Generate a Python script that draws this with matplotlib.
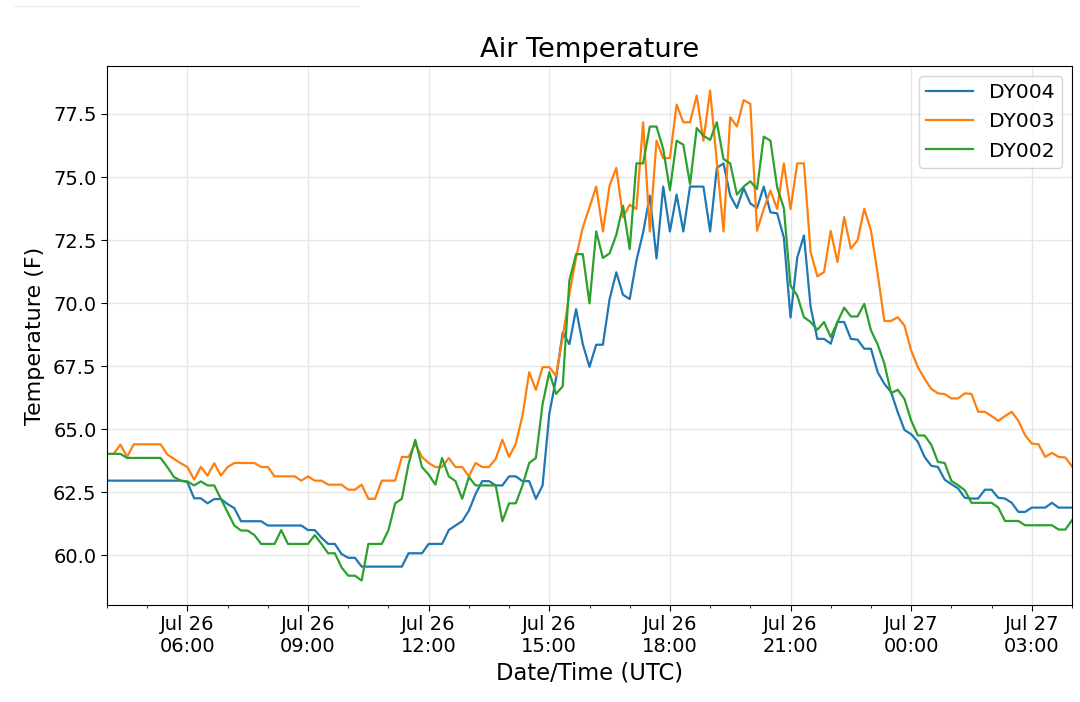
import matplotlib
matplotlib.use("Agg")
import matplotlib.pyplot as plt
import matplotlib.dates as mdates
from matplotlib.lines import Line2D
import pandas as pd

start_time = "2019-07-26 04:00"
n_points = 145
freq = "10min"

dy004 = [
    62.96, 62.96, 62.96, 62.96, 62.96, 62.96, 62.96, 62.96, 62.96, 62.96,
    62.96, 62.96, 62.9, 62.26, 62.26, 62.06, 62.23, 62.23, 62.03, 61.87,
    61.35, 61.35, 61.35, 61.35, 61.18, 61.18, 61.18, 61.18, 61.18, 61.18,
    61.0, 61.0, 60.7, 60.45, 60.45, 60.05, 59.9, 59.9, 59.55, 59.55,
    59.55, 59.55, 59.55, 59.55, 59.55, 60.08, 60.08, 60.08, 60.45, 60.45,
    60.45, 61.0, 61.18, 61.35, 61.77, 62.43, 62.94, 62.94, 62.77, 62.77,
    63.13, 63.13, 62.94, 62.94, 62.24, 62.77, 65.6, 67.0, 68.84, 68.37,
    69.76, 68.37, 67.47, 68.35, 68.35, 70.16, 71.22, 70.33, 70.16, 71.68,
    72.8, 74.26, 71.77, 74.62, 72.84, 74.3, 72.84, 74.62, 74.62, 74.62,
    72.84, 75.36, 75.54, 74.26, 73.77, 74.56, 73.95, 73.77, 74.62, 73.6,
    73.56, 72.6, 69.43, 71.8, 72.68, 69.84, 68.58, 68.58, 68.39, 69.25,
    69.25, 68.58, 68.55, 68.19, 68.19, 67.26, 66.8, 66.47, 65.67, 64.97,
    64.8, 64.5, 63.9, 63.55, 63.5, 63.0, 62.82, 62.65, 62.28, 62.25,
    62.25, 62.6, 62.6, 62.28, 62.25, 62.08, 61.72, 61.72, 61.89, 61.89,
    61.89, 62.08, 61.89, 61.89, 61.89,
]

dy003 = [
    64.02, 64.02, 64.39, 63.9, 64.4, 64.4, 64.4, 64.4, 64.4, 64.0,
    63.82, 63.65, 63.5, 63.0, 63.5, 63.16, 63.65, 63.16, 63.5, 63.66,
    63.66, 63.66, 63.66, 63.5, 63.5, 63.13, 63.13, 63.13, 63.13, 62.96,
    63.13, 62.96, 62.96, 62.8, 62.8, 62.8, 62.6, 62.6, 62.8, 62.24,
    62.24, 62.96, 62.96, 62.96, 63.9, 63.9, 64.42, 63.9, 63.66, 63.5,
    63.5, 63.86, 63.5, 63.5, 63.13, 63.66, 63.5, 63.5, 63.82, 64.58,
    63.9, 64.42, 65.54, 67.26, 66.56, 67.46, 67.46, 67.12, 68.64, 70.36,
    71.81, 73.0, 73.8, 74.62, 72.84, 74.66, 75.36, 73.4, 73.9, 73.73,
    77.17, 72.84, 76.44, 75.75, 75.75, 77.87, 77.17, 77.17, 78.23, 76.44,
    78.43, 75.6, 72.84, 77.37, 77.0, 78.05, 77.9, 72.87, 73.73, 74.46,
    73.73, 75.54, 73.73, 75.54, 75.54, 72.02, 71.06, 71.23, 72.86, 71.63,
    73.41, 72.16, 72.49, 73.74, 72.88, 71.16, 69.29, 69.29, 69.44, 69.11,
    68.12, 67.46, 67.0, 66.6, 66.42, 66.39, 66.22, 66.22, 66.42, 66.4,
    65.69, 65.69, 65.52, 65.33, 65.52, 65.69, 65.33, 64.76, 64.43, 64.4,
    63.9, 64.06, 63.9, 63.88, 63.53,
]

dy002 = [
    64.02, 64.02, 64.02, 63.86, 63.86, 63.86, 63.86, 63.86, 63.86, 63.5,
    63.1, 62.96, 62.93, 62.77, 62.93, 62.77, 62.77, 62.24, 61.7, 61.18,
    60.98, 60.98, 60.8, 60.45, 60.45, 60.45, 61.0, 60.45, 60.45, 60.45,
    60.45, 60.8, 60.45, 60.08, 60.08, 59.52, 59.19, 59.19, 59.0, 60.45,
    60.45, 60.45, 61.0, 62.06, 62.24, 63.62, 64.58, 63.5, 63.2, 62.8,
    63.86, 63.13, 62.94, 62.24, 63.1, 62.77, 62.77, 62.77, 62.77, 61.35,
    62.06, 62.06, 62.77, 63.66, 63.86, 66.0, 67.26, 66.4, 66.7, 70.9,
    71.94, 71.94, 69.99, 72.84, 71.79, 71.97, 72.71, 73.86, 72.14, 75.54,
    75.54, 77.0, 77.0, 76.11, 74.48, 76.44, 76.28, 74.72, 76.94, 76.64,
    76.47, 77.17, 75.71, 75.54, 74.3, 74.62, 74.83, 74.52, 76.6, 76.44,
    74.59, 73.77, 70.69, 70.3, 69.44, 69.25, 68.94, 69.25, 68.65, 69.25,
    69.82, 69.47, 69.47, 69.97, 68.92, 68.36, 67.6, 66.43, 66.56, 66.2,
    65.34, 64.75, 64.75, 64.38, 63.7, 63.66, 62.95, 62.78, 62.58, 62.08,
    62.08, 62.08, 62.08, 61.89, 61.36, 61.36, 61.36, 61.19, 61.19, 61.19,
    61.19, 61.19, 61.02, 61.02, 61.39,
]

series_names = ["DY004", "DY003", "DY002"]
series_values = [dy004, dy003, dy002]
series_colors = ["#1f77b4", "#ff7f0e", "#2ca02c"]

times = pd.date_range(start=start_time, periods=n_points, freq=freq)

plt.rcParams["font.family"] = ["DejaVu Sans"]

fig = plt.figure(figsize=(10.8, 7.02), dpi=100)
ax = fig.add_axes([107 / 1080, 1 - 605 / 702, (1072 - 107) / 1080, (605 - 66) / 702])

for name, vals, col in zip(series_names, series_values, series_colors):
    ax.plot(times, vals, color=col, lw=1.6, label=name)

ax.set_xlim(times[0], times[-1])
ax.margins(y=0.05)

ax.xaxis.set_major_locator(mdates.HourLocator(byhour=range(0, 24, 3)))
ax.xaxis.set_minor_locator(mdates.HourLocator())
ax.xaxis.set_major_formatter(mdates.DateFormatter("%b %d\n%H:%M"))
ax.yaxis.set_major_locator(plt.MultipleLocator(2.5))
ax.yaxis.set_major_formatter(plt.FormatStrFormatter("%.1f"))

ax.grid(True, which="major", color="#e6e6e6", lw=1.0)
ax.set_axisbelow(True)
ax.tick_params(axis="both", which="major", labelsize=14, length=4)
ax.tick_params(axis="x", which="minor", length=2.5)

ax.set_title("Air Temperature", fontsize=19.6, pad=6.5)
ax.set_xlabel("Date/Time (UTC)", fontsize=16.3, labelpad=4)
ax.set_ylabel("Temperature (F)", fontsize=16, labelpad=6)

ax.legend(loc="upper right", fontsize=14.6, handlelength=2.3, borderpad=0.35,
          labelspacing=0.5, framealpha=0.8)

fig.add_artist(Line2D([14 / 1080, 358 / 1080], [1 - 6 / 702, 1 - 6 / 702],
                      color="#f0f0f0", lw=1.0))

fig.savefig("out.png", dpi=100)
